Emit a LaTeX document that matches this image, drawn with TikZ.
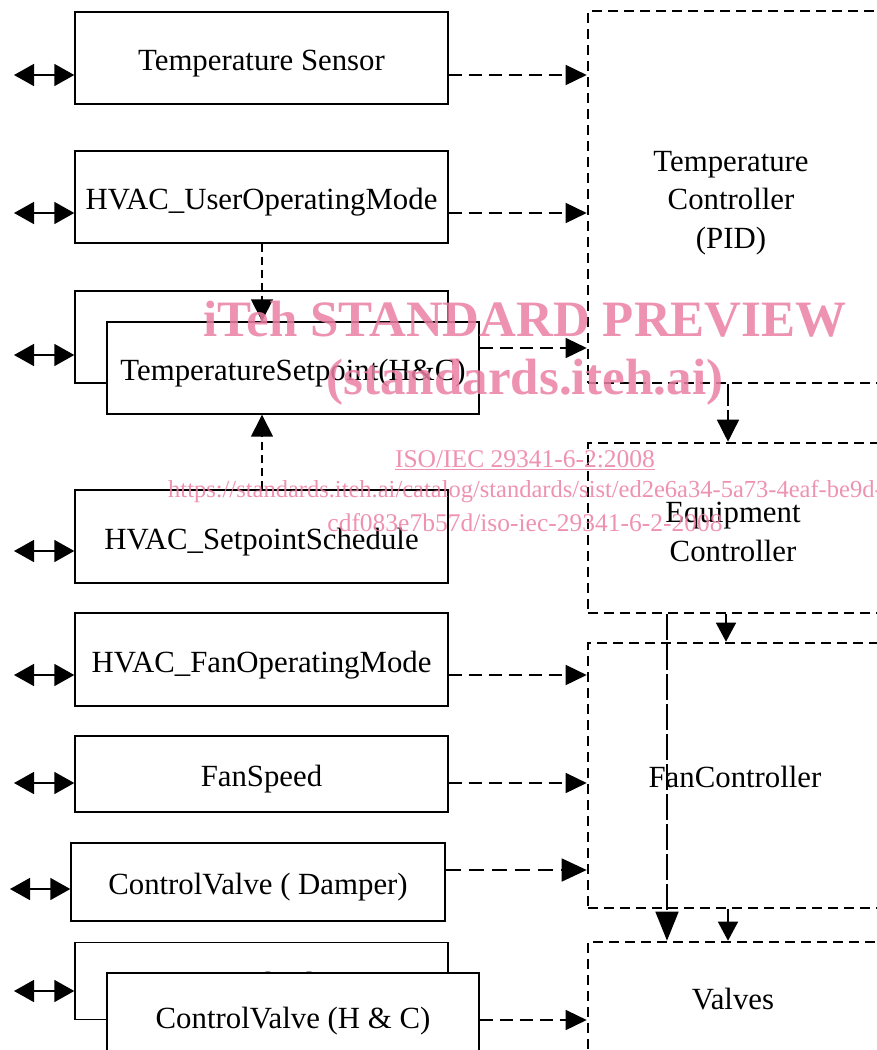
\documentclass[tikz,border=0pt]{standalone}
\usepackage{fontspec}
\setmainfont{Liberation Serif}
\usetikzlibrary{arrows.meta,calc}
\definecolor{wm}{RGB}{236,128,164}
\begin{document}
\begin{tikzpicture}[x=1pt,y=-1pt,
  box/.style={draw,line width=1.4pt,minimum width=373pt,minimum height=92pt,inner sep=0pt,fill=white,text height=25pt,text depth=0pt,font=\fontsize{30.8}{36}\selectfont},
  dbox/.style={draw,line width=2.6pt,dash pattern=on 10pt off 6pt,inner sep=0pt},
  lbl/.style={font=\fontsize{30.8}{38.5}\selectfont,align=center,inner sep=0pt},
  darr/.style={line width=1.5pt,dash pattern=on 13pt off 7pt,-{Triangle[length=21pt,width=20pt]}},
  bigdarr/.style={line width=1.5pt,dash pattern=on 15pt off 8pt,-{Triangle[length=25pt,width=23pt]}},
  dbl/.style={line width=1.6pt,{Triangle[length=20pt,width=22pt]}-{Triangle[length=20pt,width=22pt]}},
  sarr/.style={line width=1.5pt,-{Triangle[length=19pt,width=20pt]}},
  longdarr/.style={line width=1.5pt,dash pattern=on 22pt off 4pt,-{Triangle[length=22pt,width=22pt]}},
  wmk/.style={text=wm,opacity=0.85,inner sep=0pt}
]
\useasboundingbox (0,0) rectangle (877,1050);
\clip (0,0) rectangle (877,1050);
\fill[white] (0,0) rectangle (877,1050);

% right dashed boxes
\node[dbox,minimum width=317pt,minimum height=372pt] (tc) at (746.5,197) {};
\node[dbox,minimum width=317pt,minimum height=170pt] (ec) at (746.5,528) {};
\node[dbox,minimum width=317pt,minimum height=265pt] (fc) at (746.5,775.5) {};
\node[dbox,minimum width=317pt,minimum height=133pt] (va) at (746.5,1008.5) {};
\node[lbl] (tct) at (731,203) {Temperature\\Controller\\(PID)};
\node[lbl] (ect) at (733,532) {Equipment\\Controller};
\node[lbl] (fct) at (735,777) {FanController};
\node[lbl] (vat) at (733,999) {Valves};

% left boxes
\node[box] (ts) at (261.5,58) {Temperature Sensor};
\node[box] (um) at (261.5,197) {HVAC\_UserOperatingMode};
\node[box] (spb) at (261.5,337) {};
\node[box,minimum width=372pt] (sp) at (293,368) {TemperatureSetpoint(H\&C)};
\node[box,minimum height=93pt] (ss) at (261.5,536.5) {HVAC\_SetpointSchedule};
\node[box,minimum height=93pt] (fm) at (261.5,659.5) {HVAC\_FanOperatingMode};
\node[box,minimum height=76pt] (fs) at (261.5,774) {FanSpeed};
\node[box,minimum width=374pt,minimum height=78pt] (cvd) at (258,882) {ControlValve ( Damper)};
\node[box,minimum height=77pt] (cvb) at (261.5,981) {ControlValve};
\node[box,minimum width=372pt,minimum height=86pt] (cvf) at (293,1016) {ControlValve (H \& C)};

% double arrows on the left
\coordinate (l1) at (14,75);
\coordinate (l2) at (14,213);
\coordinate (l3) at (14,355);
\coordinate (l4) at (14,551);
\coordinate (l5) at (14,675);
\coordinate (l6) at (14,783);
\coordinate (l7) at (10,889);
\coordinate (l8) at (14,991);
\draw[dbl] (l1) -- (l1 -| ts.west);
\draw[dbl] (l2) -- (l2 -| um.west);
\draw[dbl] (l3) -- (l3 -| spb.west);
\draw[dbl] (l4) -- (l4 -| ss.west);
\draw[dbl] (l5) -- (l5 -| fm.west);
\draw[dbl] (l6) -- (l6 -| fs.west);
\draw[dbl] (l7) -- (l7 -| cvd.west);
\draw[dbl] (l8) -- (l8 -| cvb.west);

% dashed arrows to the controllers
\draw[darr] (ts.east |- 0,75) -- (tc.west |- 0,75);
\draw[darr] (um.east |- 0,213) -- (tc.west |- 0,213);
\draw[darr] (sp.east |- 0,348) -- (tc.west |- 0,348);
\draw[darr] (fm.east |- 0,675) -- (fc.west |- 0,675);
\draw[darr] (fs.east |- 0,783) -- (fc.west |- 0,783);
\draw[bigdarr] (cvd.east |- 0,870) -- (fc.west |- 0,870);
\draw[darr] (cvf.east |- 0,1020) -- (va.west |- 0,1020);

% vertical dashed arrows into the setpoint box
\draw[line width=1.5pt,dash pattern=on 8pt off 5pt,-{Triangle[length=22pt,width=22pt]}] (um.south -| 262,0) -- (sp.north -| 262,0);
\draw[line width=1.5pt,dash pattern=on 8pt off 5pt,-{Triangle[length=22pt,width=22pt]}] (ss.north -| 262,0) -- (sp.south -| 262,0);

% arrows between controllers
\draw[longdarr] (tc.south -| 728,0) -- (ec.north -| 728,0);
\draw[sarr] (ec.south -| 726,0) -- (fc.north -| 726,0);
\draw[line width=1.5pt,dash pattern=on 26pt off 4pt,-{Triangle[length=29pt,width=23pt]}] (ec.south -| 667,0) -- (va.north -| 667,0);
\draw[sarr] (fc.south -| 728,0) -- (va.north -| 728,0);

% watermark
\node[wmk,font=\bfseries\fontsize{51}{60}\selectfont] (w1) at (525,319) {iTeh STANDARD PREVIEW};
\node[wmk,font=\bfseries\fontsize{51}{60}\selectfont] (w2) at (525,382) {(standards.iteh.ai)};
\node[wmk,font=\fontsize{25.5}{30}\selectfont] (w3) at (525,460) {\underline{ISO/IEC 29341-6-2:2008}};
\node[wmk,font=\fontsize{24.5}{30}\selectfont,anchor=west] (w4) at (168,492) {https://standards.iteh.ai/catalog/standards/sist/ed2e6a34-5a73-4eaf-be9d-};
\node[wmk,font=\fontsize{25.5}{30}\selectfont] (w5) at (525,523) {cdf083e7b57d/iso-iec-29341-6-2-2008};
\end{tikzpicture}
\end{document}
